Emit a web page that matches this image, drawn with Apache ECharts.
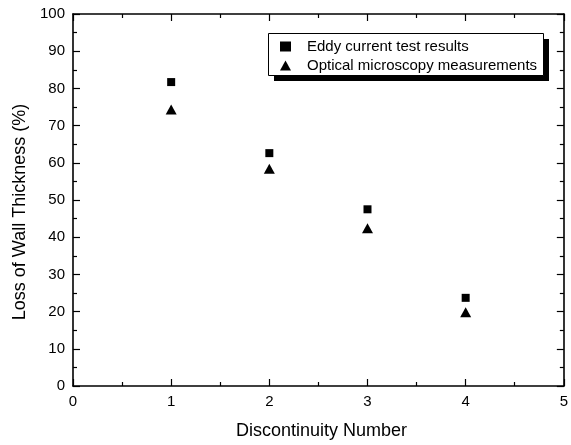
<!DOCTYPE html>
<html><head><meta charset="utf-8">
<script src="https://cdn.jsdelivr.net/npm/echarts@6/dist/echarts.min.js"></script>
<style>html,body{margin:0;padding:0;background:#fff}#c{width:571px;height:445px}</style>
</head><body><div id="c"></div>
<script>
const discontinuity = [1, 2, 3, 4];
const eddyCurrent = [81.7, 62.6, 47.5, 23.7];
const opticalMicroscopy = [74.3, 58.4, 42.4, 19.8];
const seriesNames = ['Eddy current test results', 'Optical microscopy measurements'];

const chart = echarts.init(document.getElementById('c'));
const font = 'Liberation Sans, Arial, sans-serif';
const axisCommon = {
  axisLine: {show: true, onZero: false, lineStyle: {color: '#000', width: 1.6}},
  axisTick: {show: true, inside: true, length: 7, lineStyle: {color: '#000', width: 1.2}},
  minorTick: {show: true, splitNumber: 2, length: 4, lineStyle: {color: '#000', width: 1.2}},
  splitLine: {show: false}
};
chart.setOption({
  animation: false,
  backgroundColor: '#fff',
  grid: {left: 73, top: 14, right: 2, bottom: 56, containLabel: false},
  xAxis: [
    Object.assign({type: 'value', min: 0, max: 5, interval: 1, position: 'bottom',
      name: 'Discontinuity Number', nameLocation: 'middle', nameGap: 36,
      nameTextStyle: {fontFamily: font, fontSize: 18, color: '#000', padding: [0, 0, 0, 6]},
      axisLabel: {fontFamily: font, fontSize: 15, color: '#000', margin: 8, showMaxLabel: true}}, axisCommon),
    Object.assign({type: 'value', min: 0, max: 5, interval: 1, position: 'top',
      axisLabel: {show: false}}, axisCommon)
  ],
  yAxis: [
    Object.assign({type: 'value', min: 0, max: 100, interval: 10, position: 'left',
      name: 'Loss of Wall Thickness (%)', nameLocation: 'middle', nameGap: 42,
      nameTextStyle: {fontFamily: font, fontSize: 18, color: '#000', padding: [0, 24, 0, 0]},
      axisLabel: {fontFamily: font, fontSize: 15, color: '#000', margin: 8}}, axisCommon),
    Object.assign({type: 'value', min: 0, max: 100, interval: 10, position: 'right',
      axisLabel: {show: false}}, axisCommon)
  ],
  legend: {
    orient: 'vertical', left: 275, top: 34, itemWidth: 11, itemHeight: 10, itemGap: 4,
    textStyle: {fontFamily: font, fontSize: 15, lineHeight: 15, color: '#000', padding: [0, 0, 0, 11]},
    data: seriesNames
  },
  graphic: [
    {type: 'rect', shape: {x: 274, y: 39, width: 275, height: 42}, style: {fill: '#000'}, z: 0, silent: true},
    {type: 'rect', shape: {x: 268.5, y: 33.5, width: 275, height: 42}, style: {fill: '#fff', stroke: '#000', lineWidth: 1}, z: 1, silent: true}
  ],
  series: [
    {name: seriesNames[0], type: 'scatter', symbol: 'rect', symbolSize: 8,
      itemStyle: {color: '#000', opacity: 1}, data: discontinuity.map((x, i) => [x, eddyCurrent[i]]), z: 5},
    {name: seriesNames[1], type: 'scatter', symbol: 'triangle', symbolSize: [11, 10],
      itemStyle: {color: '#000', opacity: 1}, data: discontinuity.map((x, i) => [x, opticalMicroscopy[i]]), z: 5}
  ]
});
</script></body></html>
